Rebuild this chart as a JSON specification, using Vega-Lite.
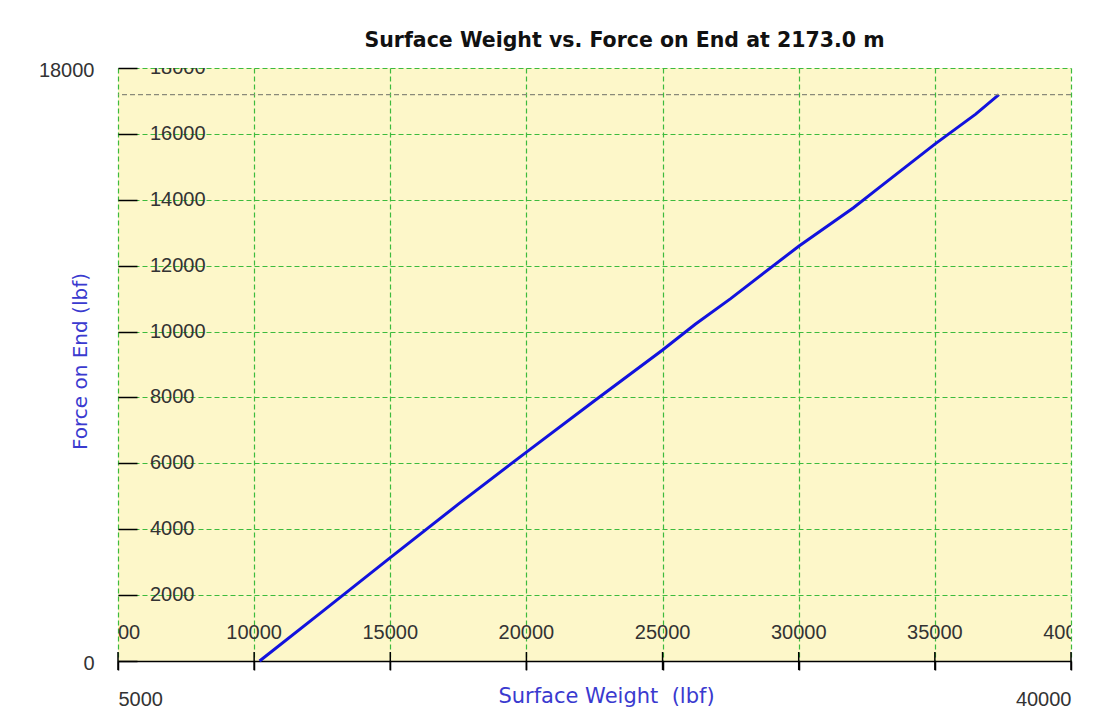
{
  "$schema": "https://vega.github.io/schema/vega-lite/v6.json",
  "autosize": "none",
  "padding": {"left": 118, "top": 68, "right": 23, "bottom": 66},
  "width": 953,
  "height": 593,
  "background": "white",
  "title": {"text": "Surface Weight vs. Force on End at 2173.0 m", "font": "DejaVu Sans", "fontSize": 20.5, "fontWeight": "bold", "color": "#111111", "anchor": "middle", "dx": 30, "offset": 9},
  "config": {"view": {"fill": "#FDF7C9", "stroke": null}},
  "datasets": {
    "curve": [
      {"x": 10200, "y": 0},
      {"x": 12500, "y": 1500},
      {"x": 15000, "y": 3140},
      {"x": 17500, "y": 4760},
      {"x": 20000, "y": 6340},
      {"x": 22500, "y": 7900},
      {"x": 25000, "y": 9440},
      {"x": 26200, "y": 10220},
      {"x": 27500, "y": 11000},
      {"x": 30000, "y": 12590},
      {"x": 32000, "y": 13750},
      {"x": 33000, "y": 14400},
      {"x": 35000, "y": 15690},
      {"x": 36500, "y": 16600},
      {"x": 37350, "y": 17190}
    ],
    "xticks": [{"x": 5000}, {"x": 10000}, {"x": 15000}, {"x": 20000}, {"x": 25000}, {"x": 30000}, {"x": 35000}, {"x": 40000}],
    "yticks": [{"y": 2000}, {"y": 4000}, {"y": 6000}, {"y": 8000}, {"y": 10000}, {"y": 12000}, {"y": 14000}, {"y": 16000}, {"y": 18000}],
    "maxline": [{"y": 17190}]
  },
  "layer": [
    {
      "data": {"name": "curve"},
      "mark": {"type": "line", "color": "#1212DD", "strokeWidth": 3},
      "encoding": {
        "x": {"field": "x", "type": "quantitative",
          "scale": {"domain": [5000, 40000], "nice": false, "zero": false},
          "axis": {
            "values": [5000, 10000, 15000, 20000, 25000, 30000, 35000, 40000],
            "format": "d",
            "labelExpr": "datum.value == 5000 || datum.value == 40000 ? datum.label : ''",
            "labelFlush": true,
            "labelFont": "Liberation Sans", "labelFontSize": 20, "labelColor": "#333333",
            "labelPadding": 19,
            "tickSize": 9, "tickColor": "#000000", "tickWidth": 1.5,
            "domainColor": "#000000", "domainWidth": 1.5,
            "grid": true, "gridColor": "#3DBB3D", "gridDash": [5, 3], "gridWidth": 1.2,
            "title": "Surface Weight\u00a0 (lbf)",
            "titleFont": "DejaVu Sans", "titleFontSize": 21, "titleFontWeight": "normal", "titleColor": "#3A3ACF",
            "titleX": 488, "titleY": 35, "titleBaseline": "middle", "titleAlign": "center"
          }
        },
        "y": {"field": "y", "type": "quantitative",
          "scale": {"domain": [0, 18000], "nice": false},
          "axis": {
            "values": [0, 2000, 4000, 6000, 8000, 10000, 12000, 14000, 16000, 18000],
            "format": "d",
            "labelExpr": "datum.value == 0 || datum.value == 18000 ? datum.label : ''",
            "labelFont": "Liberation Sans", "labelFontSize": 20, "labelColor": "#333333",
            "labelPadding": 43,
            "labelOffset": 2,
            "tickSize": -19, "tickColor": "#000000", "tickWidth": 1.5,
            "domain": false,
            "grid": true, "gridColor": "#3DBB3D", "gridDash": [5, 3], "gridWidth": 1.2,
            "title": "Force on End (lbf)",
            "titleFont": "DejaVu Sans", "titleFontSize": 20, "titleFontWeight": "normal", "titleColor": "#3A3ACF",
            "titleX": -38, "titleY": 293, "titleAngle": -90, "titleBaseline": "middle", "titleAlign": "center"
          }
        }
      }
    },
    {
      "data": {"name": "maxline"},
      "mark": {"type": "rule", "color": "#8A8A7A", "strokeDash": [5, 3], "strokeWidth": 1.2},
      "encoding": {"y": {"field": "y", "type": "quantitative"}}
    },
    {
      "data": {"name": "xticks"},
      "mark": {"type": "tick", "orient": "vertical", "size": 18, "thickness": 1.5, "color": "#000000", "opacity": 1},
      "encoding": {
        "x": {"field": "x", "type": "quantitative"},
        "y": {"datum": 0, "type": "quantitative"}
      }
    },
    {
      "data": {"name": "xticks"},
      "mark": {"type": "text", "clip": true, "font": "Liberation Sans", "fontSize": 20, "color": "#333333", "align": "center", "baseline": "middle", "dy": -28},
      "encoding": {
        "x": {"field": "x", "type": "quantitative"},
        "y": {"datum": 0, "type": "quantitative"},
        "text": {"field": "x", "type": "quantitative", "format": "d"}
      }
    },
    {
      "data": {"name": "yticks"},
      "mark": {"type": "text", "clip": true, "font": "Liberation Sans", "fontSize": 20, "color": "#333333", "align": "left", "baseline": "middle", "dx": 32},
      "encoding": {
        "x": {"datum": 5000, "type": "quantitative"},
        "y": {"field": "y", "type": "quantitative"},
        "text": {"field": "y", "type": "quantitative", "format": "d"}
      }
    }
  ]
}
